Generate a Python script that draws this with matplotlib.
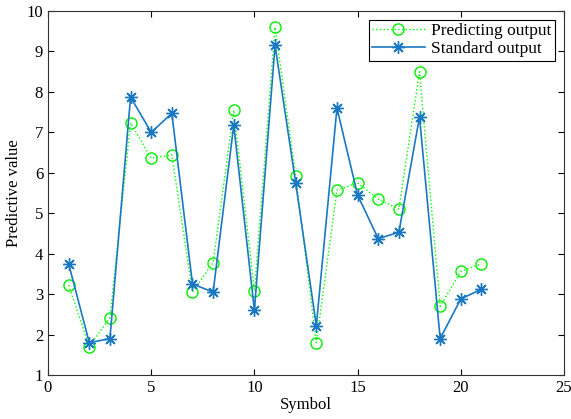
import matplotlib
matplotlib.use("Agg")
import matplotlib.pyplot as plt

plt.rcParams['font.family'] = ['Liberation Serif', 'DejaVu Serif']

symbols = list(range(1, 22))
predicting = [3.22, 1.70, 2.42, 7.23, 6.36, 6.44, 3.05, 3.78, 7.55, 3.08, 9.60,
              5.92, 1.80, 5.57, 5.75, 5.35, 5.10, 8.50, 2.70, 3.56, 3.75]
standard = [3.75, 1.80, 1.90, 7.87, 7.00, 7.47, 3.25, 3.05, 7.18, 2.60, 9.15,
            5.75, 2.22, 7.60, 5.45, 4.37, 4.53, 7.38, 1.90, 2.88, 3.12]

fig = plt.figure(figsize=(5.71, 4.19), dpi=100)
ax = fig.add_axes([48/571, 1 - 375/419, 516/571, 364/419])

ax.plot(symbols, predicting, ':', color='#00ff00', marker='o', markersize=8,
        markerfacecolor='none', markeredgecolor='#00ee00', lw=1, label='Predicting output')
ax.plot(symbols, standard, '-', color='#1a78c2', marker=(8, 2, 0), markersize=9,
        markeredgewidth=1, lw=1.2, label='Standard output')

ax.set_xlim(0, 25)
ax.set_ylim(1, 10)
ax.set_xticks([0, 5, 10, 15, 20, 25])
ax.set_yticks(range(1, 11))
ax.tick_params(direction='in', top=True, right=True, labelsize=12, length=4)
for s in ax.spines.values():
    s.set_color('#333333')
    s.set_linewidth(0.8)

ax.set_xlabel('Symbol', fontsize=12, labelpad=1)
ax.set_ylabel('Predictive value', fontsize=12, labelpad=3)

leg = ax.legend(loc='upper right', fontsize=12.5, fancybox=False, edgecolor='black',
                framealpha=1, borderpad=0.2, handlelength=3, labelspacing=0.1,
                borderaxespad=0.5, handletextpad=0.4)
leg.get_frame().set_linewidth(0.8)

fig.savefig('out.png', dpi=100)
